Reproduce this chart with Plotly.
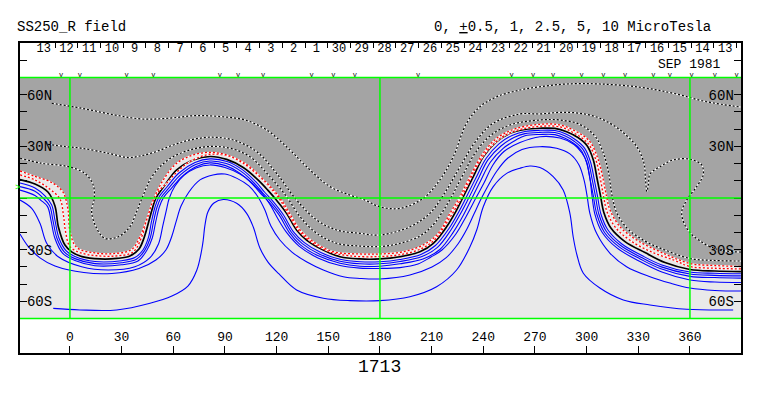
import plotly.graph_objects as go

# ---------------- data (longitude deg, latitude deg) ----------------
# neutral line (0)
N_LON = [-29.0,-20.3,-12.8,-8.7,-6.7,-2.9,1.2,7.0,17.4,27.3,34.8,40.1,43.0,45.5,47.6,49.9,55.2,62.0,71.6,81.3,91.0,100.6,109.2,115.0,119.6,125.8,131.6,137.4,147.1,156.8,168.4,180.0,191.6,203.2,211.0,218.7,224.5,228.4,234.2,240.0,247.8,255.5,264.2,272.9,281.6,288.4,295.0,300.2,303.9,306.0,308.0,310.1,314.1,322.3,333.9,345.5,360.0,374.5,389.6]
N_LAT = [10.7,8.1,3.5,-4.6,-16.8,-27.3,-31.4,-34.0,-35.4,-35.1,-33.7,-29.6,-23.2,-14.7,-7.0,0.0,7.6,16.3,22.1,24.1,22.4,17.7,10.5,4.4,-0.9,-8.9,-18.6,-24.4,-30.2,-34.1,-35.4,-35.4,-34.1,-31.2,-26.3,-16.7,-7.0,0.8,12.4,24.0,32.7,37.6,39.8,40.5,40.4,38.5,35.1,30.5,22.1,11.6,1.7,-8.7,-17.4,-25.3,-31.7,-37.5,-41.5,-42.4,-42.7]

# red dotted contours (negative side, close to neutral line)
R1_LON = [-29.0,-20.3,-12.6,-5.8,-3.8,-2.6,0.0,5.8,14.5,26.1,36.6,41.6,44.5,47.6,51.1,56.2,62.1,69.7,81.3,92.9,103.4,111.5,116.7,121.7,126.6,132.6,139.4,149.8,162.6,180.0,192.8,204.4,212.5,219.7,225.5,230.3,236.3,243.9,252.6,261.3,272.9,284.5,292.7,300.8,305.4,308.0,309.8,311.8,316.7,325.5,337.9,351.3,360.0,374.5,389.6]
R1_LAT = [13.4,10.5,5.8,-0.6,-9.9,-19.2,-28.2,-31.7,-33.4,-33.7,-31.4,-22.7,-12.8,-3.5,3.5,8.7,15.1,21.2,25.4,24.2,18.9,11.3,5.6,-0.6,-8.9,-18.6,-25.0,-30.8,-33.6,-34.0,-32.7,-29.3,-23.5,-12.8,-3.2,6.4,18.6,29.3,36.3,39.8,41.6,41.3,37.7,31.7,22.1,11.0,1.2,-7.8,-17.0,-24.8,-31.4,-36.3,-39.8,-40.8,-41.2]
R2_LON = [-29.0,-20.3,-10.6,-4.1,-1.2,0.0,3.9,14.5,26.1,35.8,40.7,44.5,48.4,54.2,62.0,71.6,81.3,91.0,100.6,110.3,118.1,123.1,127.5,133.6,141.3,152.9,168.4,180.0,193.5,205.1,213.9,220.7,226.5,232.3,240.0,247.8,258.4,272.9,284.5,294.2,301.9,306.8,309.7,311.6,313.6,319.4,329.1,342.6,360.0,374.5,389.6]
R2_LAT = [15.7,12.5,9.0,3.5,-6.4,-19.2,-28.7,-31.9,-32.2,-29.9,-22.5,-12.8,-1.2,10.5,20.2,25.0,26.5,25.0,20.2,12.4,4.7,-1.7,-8.9,-18.6,-25.4,-31.2,-32.5,-32.5,-31.2,-27.3,-20.5,-8.9,0.8,12.4,26.0,34.7,40.1,42.8,42.4,38.5,32.7,22.1,10.5,0.8,-7.0,-16.7,-24.4,-31.2,-38.0,-39.2,-39.8]

# positive (blue) contours
B1_LON = [-29.0,-20.3,-14.5,-10.6,-8.7,-6.4,-2.3,2.9,14.5,30.0,37.7,42.4,45.5,47.3,49.4,51.7,56.3,63.3,72.6,81.3,91.2,99.9,108.0,113.2,117.9,124.0,129.8,135.9,145.7,156.8,168.4,180.0,191.6,203.8,212.2,220.1,225.9,229.9,235.7,241.6,249.1,256.7,264.2,272.9,281.6,288.0,293.8,298.8,302.2,304.4,306.3,308.3,312.4,320.5,332.1,343.7,360.0,374.5,389.6]
B1_LAT = [8.7,5.8,1.2,-4.1,-12.8,-23.2,-30.5,-34.0,-36.9,-36.4,-34.6,-30.2,-23.2,-13.9,-5.2,0.6,6.4,14.5,20.6,22.7,21.2,16.6,9.3,3.2,-2.0,-9.9,-19.7,-25.8,-31.7,-35.6,-37.0,-37.0,-35.7,-32.8,-27.6,-17.7,-7.8,0.0,11.6,22.9,31.4,36.3,38.6,39.3,39.2,37.2,33.7,29.0,21.2,11.0,1.2,-9.3,-18.6,-26.7,-33.4,-38.9,-43.0,-43.7,-44.0]
B2_LON = [-29.0,-20.3,-15.8,-11.8,-9.9,-7.6,-3.2,2.9,14.5,30.0,38.6,43.4,46.6,48.5,50.6,53.0,57.6,64.3,73.0,81.3,90.8,99.2,106.9,112.0,116.7,122.8,128.6,134.9,145.0,156.8,168.4,180.0,191.6,204.4,213.4,221.2,227.0,231.1,236.9,242.7,250.3,257.8,264.2,272.9,281.6,287.6,293.0,297.7,301.0,303.2,305.1,307.1,311.4,319.8,331.6,343.4,360.0,374.5,389.6]
B2_LAT = [6.6,3.9,0.2,-4.5,-12.8,-23.2,-31.4,-35.2,-38.1,-37.6,-35.6,-30.4,-23.2,-13.9,-5.2,0.4,6.0,13.6,19.5,21.5,20.0,15.6,8.8,2.9,-2.2,-10.0,-19.9,-26.5,-32.6,-36.7,-38.2,-38.2,-36.9,-34.0,-28.7,-18.6,-8.7,-0.9,10.7,22.1,30.2,35.1,37.4,38.1,38.0,36.0,32.8,28.5,21.2,11.0,1.2,-9.3,-19.3,-27.6,-34.4,-40.0,-44.1,-44.9,-45.2]
B3_LON = [-29.0,-20.3,-17.0,-13.0,-11.0,-8.8,-4.3,2.9,14.5,30.0,39.5,44.5,47.8,49.8,51.9,54.3,58.9,65.3,73.4,81.3,90.4,98.4,105.8,110.8,115.5,121.6,127.4,133.8,144.2,156.8,168.4,180.0,191.6,205.0,214.8,222.7,228.5,232.6,238.4,244.2,251.4,259.0,264.2,272.9,281.6,287.2,292.2,296.6,299.8,302.0,303.9,305.9,310.4,319.1,331.1,343.1,360.0,374.5,389.6]
B3_LAT = [4.6,1.5,-1.2,-5.0,-13.0,-23.2,-32.0,-36.3,-39.3,-38.8,-36.6,-30.6,-23.2,-13.9,-5.2,0.2,5.6,12.7,18.3,20.4,18.8,14.6,8.2,2.6,-2.4,-10.1,-20.1,-27.2,-33.6,-37.9,-39.6,-39.6,-38.2,-35.4,-29.9,-19.7,-9.9,-1.7,9.9,20.9,28.7,33.7,36.2,36.9,36.8,34.8,31.9,28.0,21.2,11.0,1.2,-9.3,-20.0,-28.5,-35.4,-41.1,-45.5,-46.2,-46.5]
B4_LON = [-29.0,-22.2,-17.4,-13.5,-6.8,6.8,22.2,37.7,46.5,51.4,54.0,56.0,57.7,61.0,66.2,73.2,81.3,90.0,98.7,105.1,109.7,113.2,116.7,120.8,126.0,133.0,144.0,156.8,168.4,180.0,191.6,202.1,209.6,216.0,224.1,229.9,235.7,240.4,245.6,252.0,261.3,272.9,284.5,292.7,297.3,300.0,301.9,303.1,304.8,308.9,317.6,330.4,343.7,360.0,374.5,389.6]
B4_LAT = [-1.2,-6.0,-14.7,-26.3,-34.1,-39.9,-41.8,-39.9,-34.6,-26.7,-15.7,-7.0,0.0,7.0,13.1,17.4,19.2,17.7,13.9,9.3,4.7,0.6,-4.7,-12.2,-20.3,-27.9,-34.8,-39.2,-40.7,-40.9,-40.4,-38.3,-34.3,-30.2,-20.9,-11.0,0.0,8.7,19.2,27.0,32.2,35.6,34.8,31.1,26.1,20.9,11.6,1.7,-9.3,-19.7,-29.0,-36.6,-43.0,-47.6,-48.8,-49.1]
B5_LON = [-29.0,-24.4,-17.4,-8.7,8.1,24.4,40.1,49.9,55.7,59.2,61.6,64.5,69.1,75.5,83.0,90.0,97.0,103.9,109.2,113.2,116.7,121.9,128.9,137.6,147.1,158.7,168.4,180.0,197.4,210.2,218.3,225.3,230.5,234.6,238.7,242.7,247.9,254.3,262.5,272.9,282.6,290.3,295.6,298.5,300.2,301.9,305.8,313.6,323.2,336.8,348.4,360.0,374.5,389.6]
B5_LAT = [-20.9,-27.9,-34.8,-39.5,-43.3,-43.8,-40.9,-36.0,-30.2,-22.1,-13.9,-4.7,3.5,10.5,13.4,13.9,11.4,7.0,0.6,-7.0,-16.3,-24.4,-31.4,-37.2,-41.8,-45.7,-46.7,-47.0,-44.7,-40.1,-34.8,-26.7,-18.0,-9.3,-0.6,7.0,15.7,23.2,28.2,29.8,28.9,25.6,19.2,10.5,1.7,-8.9,-20.5,-32.1,-39.9,-45.7,-49.4,-52.3,-53.7,-54.0]
B6_LON = [-9.7,5.8,27.1,46.5,59.2,68.5,73.7,76.5,77.4,78.4,80.1,83.6,89.0,96.8,102.6,106.4,110.3,115.0,121.4,131.6,147.1,162.6,180.0,197.4,212.9,224.5,232.3,236.2,240.0,245.8,253.6,261.3,267.1,272.9,280.6,286.4,290.3,292.2,294.4,298.1,307.7,321.3,336.8,358.1,385.1]
B6_LAT = [-64.1,-65.0,-65.0,-61.1,-56.9,-51.1,-41.8,-30.2,-24.4,-15.7,-8.1,-2.9,-0.9,-3.1,-8.9,-16.7,-29.0,-37.2,-44.1,-53.4,-58.2,-59.6,-59.6,-57.3,-51.5,-41.8,-28.3,-18.6,-5.1,6.6,14.3,17.3,18.6,17.7,12.4,4.7,-8.9,-22.5,-33.1,-43.7,-52.3,-59.2,-62.1,-64.6,-65.0]

# negative (black dotted) contours
D2_LON = [-29.0,-16.4,-1.0,8.7,13.5,14.1,12.6,15.5,20.3,28.1,34.8,38.7,42.6,46.5,52.3,60.0,69.7,81.3,92.9,104.5,116.1,125.8,133.6,143.3,154.9,168.4,180.0,191.6,203.2,210.8,216.6,222.4,228.2,235.7,243.9,255.5,272.9,284.5,296.1,304.8,310.1,313.0,314.7,317.6,324.0,333.9,345.5,360.0,374.5,389.6]
D2_LAT = [23.1,20.2,18.2,14.3,7.6,-0.2,-8.0,-17.6,-23.4,-22.5,-16.7,-8.0,1.7,10.5,18.2,24.0,27.9,29.9,28.9,24.0,12.4,0.8,-10.9,-20.5,-26.3,-27.9,-28.2,-26.3,-22.1,-15.7,-7.6,2.3,13.4,26.7,36.0,42.4,45.3,45.3,42.7,36.0,25.0,13.4,1.7,-8.7,-18.0,-25.0,-30.2,-35.1,-36.3,-36.6]
D3_LON = [-12.8,-2.9,6.8,22.2,33.9,40.7,49.4,60.0,69.7,81.3,94.8,108.4,120.0,131.6,143.3,154.9,168.4,180.0,197.4,209.0,218.7,226.5,236.2,245.8,261.3,272.9,284.5,296.1,307.7,319.4,329.1,333.3,334.2,335.0,335.9,336.8,342.6,350.3,360.0,366.8,367.7,363.9,358.1,355.2,358.8,367.6,377.4,389.6]
D3_LAT = [31.2,29.9,28.9,26.0,23.5,24.4,26.7,30.8,33.7,35.3,33.7,26.9,14.3,-1.2,-12.8,-18.6,-20.5,-21.5,-16.7,-8.9,4.7,18.2,33.7,43.4,48.8,48.8,49.7,49.2,46.3,39.5,29.8,20.2,10.5,3.8,8.1,13.9,18.2,22.1,22.5,19.2,13.4,6.6,-1.2,-8.9,-18.6,-26.1,-30.2,-31.4]
D4_LON = [-10.6,6.8,26.1,41.6,57.1,72.6,88.1,101.6,114.2,127.7,137.4,151.0,162.6,171.3,180.0,191.6,205.1,214.8,222.6,230.3,238.1,247.8,261.3,272.9,288.4,307.7,331.0,350.3,369.7,389.6]
D4_LAT = [55.0,52.1,48.2,45.9,46.3,47.8,47.2,45.3,39.5,27.9,18.2,6.6,1.7,-1.2,-5.1,-6.0,-0.2,10.5,24.0,43.4,53.0,58.8,62.7,64.6,66.2,66.2,64.3,60.8,55.9,52.8]

# axes / labels
LON_TICKS = [0, 30, 60, 90, 120, 150, 180, 210, 240, 270, 300, 330, 360]
LAT_TICKS = [-60, -30, 30, 60]
LAT_TICK_TEXT = ["60S", "30S", "30N", "60N"]
DAY_LABELS = ["13", "12", "11", "10", "9", "8", "7", "6", "5", "4", "3", "2", "1", "30", "29",
              "28", "27", "26", "25", "24", "23", "22", "21", "20", "19", "18", "17", "16", "15", "14", "13"]
DAY0_LON = -15.2       # longitude of the first day label centre
DAY_STEP = 13.19       # degrees of Carrington longitude per day
V_MARK_LON = [-5.2, 5.8, 32.9, 48.4, 87.1, 97.7, 112.2, 140.3, 152.9, 165.5, 202.2, 256.5,
              269.0, 280.6, 297.1, 309.7, 322.3, 338.7, 348.4, 361.0, 374.5, 387.1]
B0_LAT = 6.0
ROTATION = "1713"
TITLE_LEFT = "SS250_R field"
TITLE_RIGHT = "0, <u>+</u>0.5, 1, 2.5, 5, 10 MicroTesla"
MONTH_LABEL = "SEP 1981"

# ---------------- styling ----------------
FONT = "Liberation Mono"
DARK = "#a4a4a4"
LIGHT = "#e9e9e9"
GREEN = "#00ff00"
XR = [-29.0, 389.65]
YR = [-90, 90]
LAT_EDGE = 70

fig = go.Figure()

# dark (negative polarity) region : between plot top (lat 70) and the outer red contour
fig.add_trace(go.Scatter(x=[XR[0] - 1, XR[1] + 1], y=[LAT_EDGE, LAT_EDGE], mode="lines",
                         line=dict(width=0), showlegend=False, hoverinfo="skip"))
fig.add_trace(go.Scatter(x=[XR[0] - 1] + R2_LON + [XR[1] + 1], y=[R2_LAT[0]] + R2_LAT + [R2_LAT[-1]],
                         mode="lines", line=dict(width=0, shape="spline", smoothing=1),
                         fill="tonexty", fillcolor=DARK, showlegend=False, hoverinfo="skip"))


def solid(lon, lat, color, width):
    fig.add_trace(go.Scatter(x=lon, y=lat, mode="lines",
                             line=dict(color=color, width=width, shape="spline", smoothing=1),
                             showlegend=False, hoverinfo="skip"))


def dotted(lon, lat, color, width):
    fig.add_trace(go.Scatter(x=lon, y=lat, mode="lines",
                             line=dict(color="white", width=width, shape="spline", smoothing=1),
                             showlegend=False, hoverinfo="skip"))
    fig.add_trace(go.Scatter(x=lon, y=lat, mode="lines",
                             line=dict(color=color, width=width, dash="2px,2px", shape="spline", smoothing=1),
                             showlegend=False, hoverinfo="skip"))


for lo, la in [(B1_LON, B1_LAT), (B2_LON, B2_LAT), (B3_LON, B3_LAT),
               (B4_LON, B4_LAT), (B5_LON, B5_LAT), (B6_LON, B6_LAT)]:
    solid(lo, la, "#0000ff", 1.1)
solid(N_LON, N_LAT, "black", 1.7)
dotted(R1_LON, R1_LAT, "#ff0000", 1.3)
dotted(R2_LON, R2_LAT, "#ff0000", 1.3)
for lo, la in [(D2_LON, D2_LAT), (D3_LON, D3_LAT), (D4_LON, D4_LAT)]:
    dotted(lo, la, "black", 1.2)

# observation marks along the top of the map
fig.add_trace(go.Scatter(x=V_MARK_LON, y=[LAT_EDGE + 1.0] * len(V_MARK_LON), mode="text",
                         text=["v"] * len(V_MARK_LON),
                         textfont=dict(family=FONT, size=7, color="black"),
                         showlegend=False, hoverinfo="skip", cliponaxis=False))

# day numbers in the top strip
day_centres = [DAY0_LON + i * DAY_STEP for i in range(len(DAY_LABELS))]
day_bounds = [c - DAY_STEP / 2 for c in day_centres] + [day_centres[-1] + DAY_STEP / 2]
fig.add_trace(go.Scatter(x=day_centres, y=[86.5] * len(day_centres), mode="text", text=DAY_LABELS,
                         textfont=dict(family=FONT, size=12, color="black"),
                         showlegend=False, hoverinfo="skip", cliponaxis=False))

# dummy traces so the secondary axes are drawn
fig.add_trace(go.Scatter(x=[None], y=[None], xaxis="x2", yaxis="y", showlegend=False, hoverinfo="skip"))
fig.add_trace(go.Scatter(x=[None], y=[None], xaxis="x", yaxis="y2", showlegend=False, hoverinfo="skip"))

# light background of the map and green reference lines
shapes = [dict(type="rect", xref="paper", x0=0, x1=1, yref="y", y0=-LAT_EDGE, y1=LAT_EDGE,
               fillcolor=LIGHT, line=dict(width=0), layer="below")]
for la in [-LAT_EDGE, 0, LAT_EDGE]:
    shapes.append(dict(type="line", xref="paper", x0=0, x1=1, yref="y", y0=la, y1=la,
                       line=dict(color=GREEN, width=1.5), layer="above"))
for lo in [0, 180, 360]:
    shapes.append(dict(type="line", xref="x", x0=lo, x1=lo, yref="y", y0=-LAT_EDGE, y1=LAT_EDGE,
                       line=dict(color=GREEN, width=1.5), layer="above"))

annotations = [
    dict(text=TITLE_LEFT, x=-0.007, y=1.05, xref="paper", yref="paper", xanchor="left", yanchor="middle",
         showarrow=False, font=dict(family=FONT, size=14, color="black")),
    dict(text=TITLE_RIGHT, x=0.571, y=1.05, xref="paper", yref="paper",
         xanchor="left", yanchor="middle", showarrow=False, font=dict(family=FONT, size=14, color="black")),
    dict(text=MONTH_LABEL, x=0.9755, y=0.9306, xref="paper", yref="paper", xanchor="right", yanchor="middle",
         showarrow=False, font=dict(family=FONT, size=13, color="black")),
    dict(text=ROTATION, x=0.4993, y=-0.046, xref="paper", yref="paper", xanchor="center", yanchor="middle",
         showarrow=False, font=dict(family=FONT, size=18, color="black")),
    dict(text=">", x=-0.004, y=B0_LAT, xref="paper", yref="y", xanchor="center", yanchor="middle",
         showarrow=False, font=dict(family=FONT, size=9, color=GREEN)),
]

axis_common = dict(showgrid=False, zeroline=False, fixedrange=True)
fig.update_layout(
    width=763, height=396,
    margin=dict(l=20, r=22, t=43, b=43, pad=0),
    paper_bgcolor="white", plot_bgcolor="white",
    hovermode=False, showlegend=False,
    font=dict(family=FONT, size=14, color="black"),
    xaxis=dict(range=XR, tickmode="array", tickvals=LON_TICKS, ticktext=[str(v) for v in LON_TICKS],
               ticks="inside", ticklen=7, tickwidth=1.3, tickcolor="black", ticklabelposition="inside",
               ticklabelstandoff=2,
               tickfont=dict(family=FONT, size=13, color="black"),
               showline=True, mirror=True, linecolor="black", linewidth=1.5, **axis_common),
    xaxis2=dict(range=XR, overlaying="x", side="top", anchor="y", tickmode="array", tickvals=day_bounds,
                ticks="inside", ticklen=5, tickwidth=1, tickcolor="black", showticklabels=False,
                showline=False, **axis_common),
    yaxis=dict(range=YR, tickmode="array", tickvals=LAT_TICKS, ticktext=LAT_TICK_TEXT,
               ticks="inside", ticklen=7, tickwidth=1.3, tickcolor="black", ticklabelposition="inside",
               tickfont=dict(family=FONT, size=14, color="black"),
               minor=dict(tickmode="linear", tick0=0, dtick=10, ticks="inside", ticklen=7,
                          tickwidth=1.3, tickcolor="black", showgrid=False),
               showline=True, mirror=True, linecolor="black", linewidth=1.5, **axis_common),
    yaxis2=dict(range=YR, overlaying="y", side="right", anchor="x", tickmode="array", tickvals=LAT_TICKS,
                ticktext=LAT_TICK_TEXT, ticks="inside", ticklen=7, tickwidth=1.3, tickcolor="black",
                ticklabelposition="inside", tickfont=dict(family=FONT, size=14, color="black"),
                minor=dict(tickmode="linear", tick0=0, dtick=10, ticks="inside", ticklen=7,
                           tickwidth=1.3, tickcolor="black", showgrid=False),
                showline=False, **axis_common),
    shapes=shapes,
    annotations=annotations,
)

fig.write_html("out.html", config={"displayModeBar": False},
               post_script="document.body.style.margin='0px';")
